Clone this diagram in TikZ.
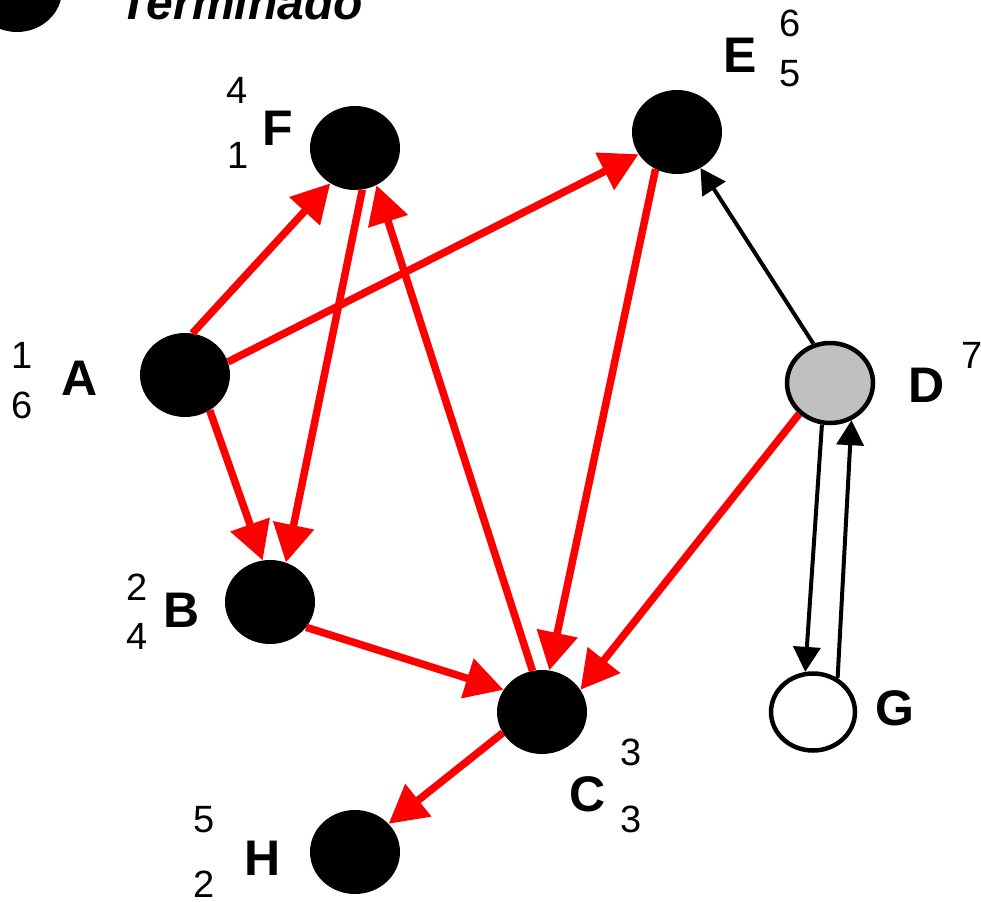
\documentclass[tikz,border=0pt]{standalone}
\usepackage{fontspec}
\setmainfont{Liberation Sans}
\usetikzlibrary{shapes.geometric,arrows.meta}
\definecolor{dgray}{RGB}{192,192,192}
\definecolor{pred}{RGB}{255,0,0}
\begin{document}
\begin{tikzpicture}[x=1pt,y=-1pt,
  vtx/.style={ellipse,minimum width=90pt,minimum height=84pt,inner sep=0pt,fill=black},
  ovtx/.style={ellipse,minimum width=86pt,minimum height=80pt,inner sep=0pt,draw=black,line width=4.5pt},
  lbl/.style={inner sep=0pt,font=\fontsize{50}{50}\selectfont\bfseries},
  num/.style={inner sep=0pt,font=\fontsize{38}{38}\selectfont},
  redarr/.style={draw=pred,line width=7.5pt,-{Triangle[length=38pt,width=40pt]}},
  blkarr/.style={draw=black,line width=4pt,-{Triangle[length=25pt,width=27pt]}}]
\clip (0,0) rectangle (981,901);
\useasboundingbox (0,0) rectangle (981,901);
% legend
\node[vtx] (leg) at (17,-10) {};
\node[anchor=base west,inner sep=0pt,font=\fontsize{48}{48}\selectfont\bfseries\itshape] (legtxt) at (119,20) {Terminado};
% vertices
\node[vtx] (A) at (185,375) {};
\node[vtx] (B) at (270,602) {};
\node[vtx] (C) at (542,712) {};
\node[vtx] (E) at (677,132) {};
\node[vtx] (F) at (355,148) {};
\node[vtx] (H) at (355,852) {};
\node[ovtx,fill=dgray] (D) at (830,383) {};
\node[ovtx,fill=white,minimum width=84pt,minimum height=77pt] (G) at (813,712) {};
% labels
\node[lbl] (lA) at (80,378) {A};
\node[num] (a1) at (22,355) {1};
\node[num] (a2) at (22,405) {6};
\node[lbl] (lB) at (182,610) {B};
\node[num] (b1) at (137,587) {2};
\node[num] (b2) at (137,636) {4};
\node[lbl] (lC) at (588,794) {C};
\node[num] (c1) at (631,752) {3};
\node[num] (c2) at (631,819) {3};
\node[lbl] (lD) at (927,385) {D};
\node[num] (d1) at (972,355) {7};
\node[lbl] (lE) at (740,55) {E};
\node[num] (e1) at (790,23) {6};
\node[num] (e2) at (790,74) {5};
\node[lbl] (lF) at (278,128) {F};
\node[num] (f1) at (237,90) {4};
\node[num] (f2) at (238,155) {1};
\node[lbl] (lG) at (895,708) {G};
\node[lbl] (lH) at (263,858) {H};
\node[num] (h1) at (204,820) {5};
\node[num] (h2) at (204,884) {2};
% red edges
\draw[redarr] (A.80) -- (F.235);
\draw[redarr] (A.17) -- (E.210);
\draw[redarr] (A.305) -- (B.100);
\draw[redarr] (F.280) -- (B.68);
\draw[redarr] (C.103) -- (F.300);
\draw[redarr] (E.240) -- (C.80);
\draw[redarr] (B.325) -- (C.150);
\draw[redarr] (D.225) -- (C.30);
\draw[redarr] (C.208) -- (H.40);
% black edges
\draw[blkarr] (D.113) -- (E.303);
\draw[blkarr] (D.259) -- (G.101);
\draw[blkarr] (G.54) -- (D.300);
\end{tikzpicture}
\end{document}
